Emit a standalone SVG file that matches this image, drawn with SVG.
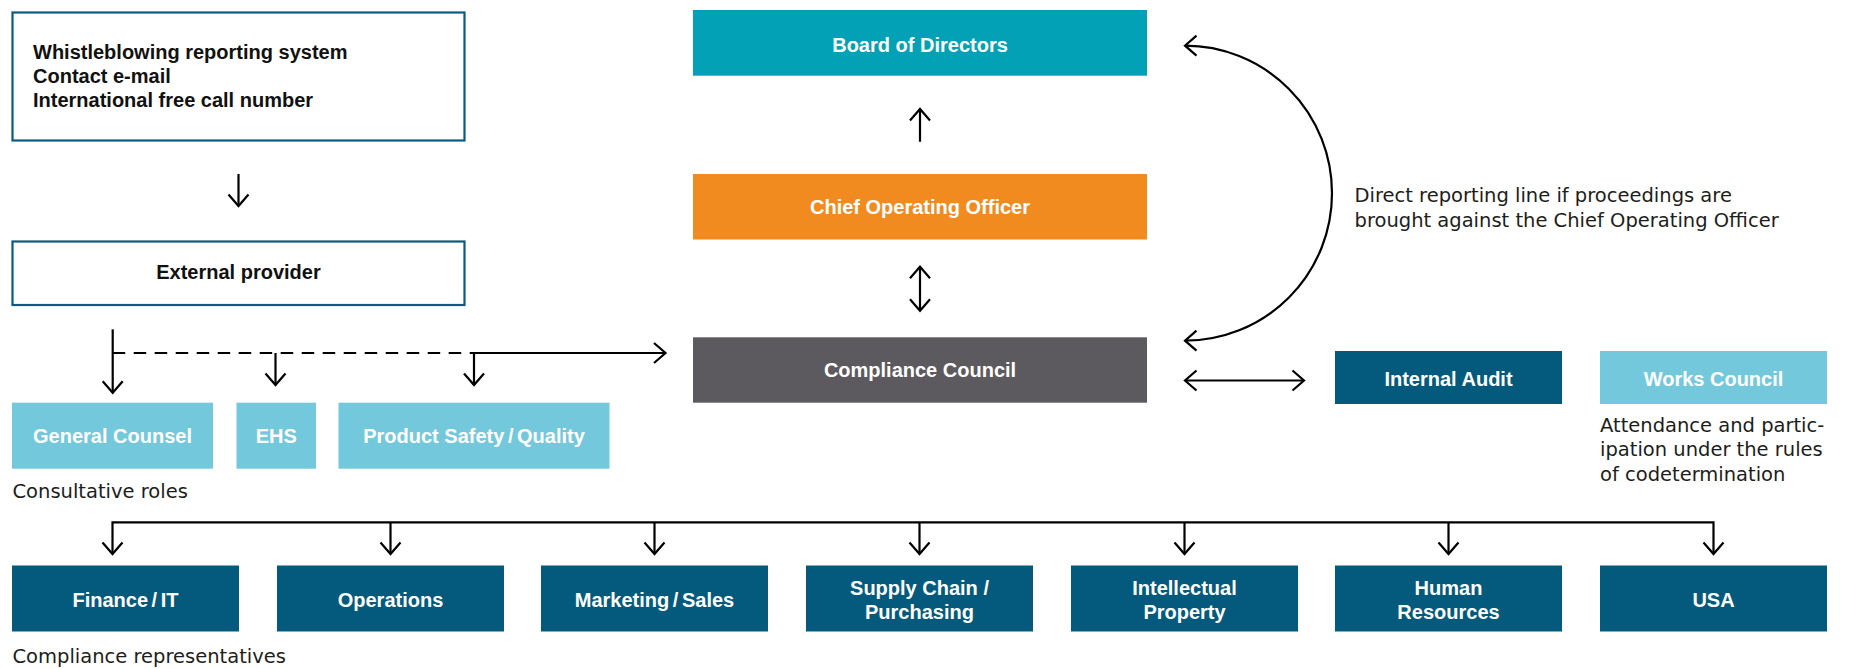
<svg xmlns="http://www.w3.org/2000/svg" width="1851" height="669" viewBox="0 0 1851 669">
<style>
.b{font-family:"Liberation Sans",Arial,sans-serif;font-weight:bold;font-size:20px;}
.w{fill:#ffffff;text-anchor:middle;}
.k{fill:#111111;}
.r{font-family:"DejaVu Sans","Liberation Sans",sans-serif;font-size:19.5px;fill:#1d1d1b;}
.cn{fill:none;stroke:#000000;stroke-width:2.2;}
.teal{fill:#02a1b5;}
.orange{fill:#f18b1f;}
.grey{fill:#5c5a5e;}
.dark{fill:#035a7c;}
.light{fill:#74c8dc;}
.outline{fill:#ffffff;stroke:#0c5a7e;stroke-width:2.2;}
.ns{word-spacing:-2px;}
</style>
<defs>
<marker id="ah" viewBox="-14 -12 16 24" refX="0" refY="0" markerWidth="16" markerHeight="24" markerUnits="userSpaceOnUse" orient="auto-start-reverse" overflow="visible">
<path d="M-11.5,-10 L0,0 L-11.5,10" fill="none" stroke="#000000" stroke-width="2.2"/>
</marker>
</defs>
<rect width="1851" height="669" fill="#ffffff"/>

<g id="whistleblowing">
<rect class="outline" x="12.5" y="12.5" width="452" height="128"/>
<text class="b k" x="33" y="59.3">Whistleblowing reporting system</text>
<text class="b k" x="33" y="83.3">Contact e-mail</text>
<text class="b k" x="33" y="107.3">International free call number</text>
</g>

<g id="external-provider">
<rect class="outline" x="12.5" y="241.5" width="452" height="63.5"/>
<text class="b k" x="238.5" y="279.3" text-anchor="middle">External provider</text>
</g>

<g id="board">
<rect class="teal" x="693" y="10" width="454" height="65.7"/>
<text class="b w" x="920" y="51.7">Board of Directors</text>
</g>

<g id="coo">
<rect class="orange" x="693" y="174" width="454" height="65.5"/>
<text class="b w" x="920" y="214.3">Chief Operating Officer</text>
</g>

<g id="compliance-council">
<rect class="grey" x="693" y="337.3" width="454" height="65.4"/>
<text class="b w" x="920" y="377.3">Compliance Council</text>
</g>

<g id="internal-audit">
<rect class="dark" x="1335" y="351" width="227" height="53"/>
<text class="b w" x="1448.5" y="385.7">Internal Audit</text>
</g>

<g id="works-council">
<rect class="light" x="1600" y="351" width="227" height="53"/>
<text class="b w" x="1713.5" y="385.7">Works Council</text>
<text class="r" x="1600" y="431.7">Attendance and partic-</text>
<text class="r" x="1600" y="456">ipation under the rules</text>
<text class="r" x="1600" y="480.7">of codetermination</text>
</g>

<g id="reporting-note">
<text class="r" x="1354.5" y="202.3">Direct reporting line if proceedings are</text>
<text class="r" x="1354.5" y="226.7">brought against the Chief Operating Officer</text>
</g>

<g id="general-counsel">
<rect class="light" x="12" y="402.7" width="201" height="66"/>
<text class="b w" x="112.5" y="443.3">General Counsel</text>
</g>

<g id="ehs">
<rect class="light" x="236.5" y="402.7" width="79.5" height="66"/>
<text class="b w" x="276.3" y="443.3">EHS</text>
</g>

<g id="product-safety">
<rect class="light" x="338.5" y="402.7" width="271" height="66"/>
<text class="b w" x="474" y="443.3">Product Safety<tspan class="ns"> / Quality</tspan></text>
</g>

<g id="consultative-label">
<text class="r" x="12.5" y="498">Consultative roles</text>
</g>

<g id="finance-it">
<rect class="dark" x="12" y="565.5" width="227" height="66"/>
<text class="b w ns" x="125.5" y="606.7">Finance / IT</text>
</g>

<g id="operations">
<rect class="dark" x="277" y="565.5" width="227" height="66"/>
<text class="b w" x="390.5" y="606.7">Operations</text>
</g>

<g id="marketing-sales">
<rect class="dark" x="541" y="565.5" width="227" height="66"/>
<text class="b w ns" x="654.5" y="606.7">Marketing / Sales</text>
</g>

<g id="supply-chain">
<rect class="dark" x="806" y="565.5" width="227" height="66"/>
<text class="b w" x="919.5" y="595">Supply Chain /</text>
<text class="b w" x="919.5" y="618.5">Purchasing</text>
</g>

<g id="intellectual-property">
<rect class="dark" x="1071" y="565.5" width="227" height="66"/>
<text class="b w" x="1184.5" y="595">Intellectual</text>
<text class="b w" x="1184.5" y="618.5">Property</text>
</g>

<g id="human-resources">
<rect class="dark" x="1335" y="565.5" width="227" height="66"/>
<text class="b w" x="1448.5" y="595">Human</text>
<text class="b w" x="1448.5" y="618.5">Resources</text>
</g>

<g id="usa">
<rect class="dark" x="1600" y="565.5" width="227" height="66"/>
<text class="b w" x="1713.5" y="606.7">USA</text>
</g>

<g id="representatives-label">
<text class="r" x="12.5" y="663.3">Compliance representatives</text>
</g>

<g id="connectors">
<path class="cn" d="M238.5,174 V206" marker-end="url(#ah)"/>
<path class="cn" d="M920,141.7 V109" marker-end="url(#ah)"/>
<path class="cn" d="M920,310.7 V266.7" marker-start="url(#ah)" marker-end="url(#ah)"/>
<path class="cn" d="M1185,45.7 A147,147.5 0 0 1 1185,340.7" marker-start="url(#ah)" marker-end="url(#ah)"/>
<path class="cn" d="M1185,380.5 H1304" marker-start="url(#ah)" marker-end="url(#ah)"/>
<path class="cn" d="M112.7,329.3 V392.7" marker-end="url(#ah)"/>
<path class="cn" d="M112.7,353 H474" stroke-dasharray="12.5 8.5"/>
<path class="cn" d="M275.5,353 V385" marker-end="url(#ah)"/>
<path class="cn" d="M474,385 V353 H665.5" marker-start="url(#ah)" marker-end="url(#ah)"/>
<path class="cn" d="M112.5,554 V522.3 H1713.5 V554" marker-start="url(#ah)" marker-end="url(#ah)"/>
<path class="cn" d="M390.5,522.3 V554" marker-end="url(#ah)"/>
<path class="cn" d="M654.5,522.3 V554" marker-end="url(#ah)"/>
<path class="cn" d="M919.5,522.3 V554" marker-end="url(#ah)"/>
<path class="cn" d="M1184.5,522.3 V554" marker-end="url(#ah)"/>
<path class="cn" d="M1448.5,522.3 V554" marker-end="url(#ah)"/>
</g>
</svg>
